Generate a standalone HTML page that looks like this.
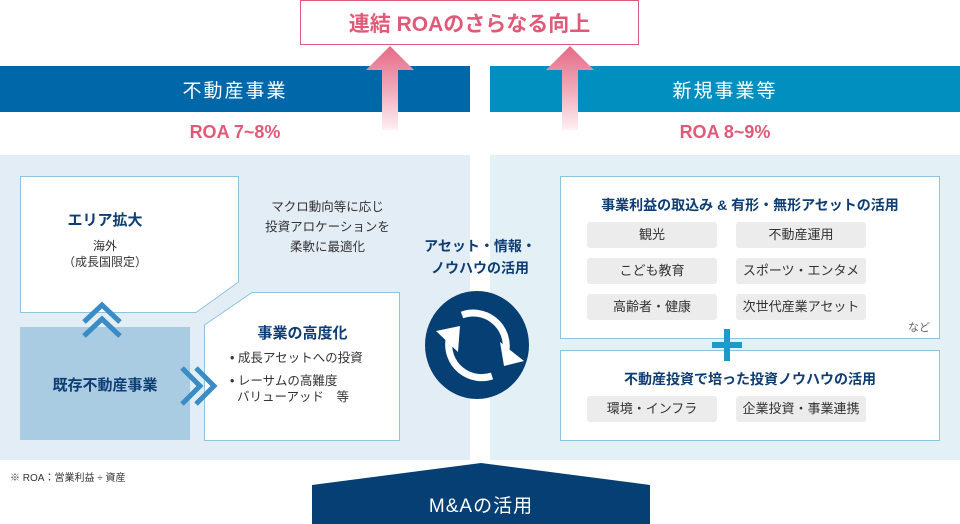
<!DOCTYPE html>
<html><head><meta charset="utf-8"><style>
*{margin:0;padding:0;box-sizing:border-box}
body{width:960px;height:524px;position:relative;overflow:hidden;background:#fff;font-family:"Liberation Sans","Noto Sans CJK JP",sans-serif}
.a{position:absolute}
.t{position:absolute;text-align:center;white-space:nowrap}
.pill{position:absolute;width:130px;height:26px;background:#ececec;border-radius:3px;font-size:13px;color:#333;text-align:center;line-height:26px}
.navy{color:#0d3d73;font-weight:bold}
</style></head><body>
<svg class="a" style="left:0;top:0" width="960" height="524">
<defs>
<linearGradient id="g" x1="0" y1="0" x2="0" y2="1"><stop offset="0" stop-color="#e46a86"/><stop offset="0.5" stop-color="#f0a8b8"/><stop offset="1" stop-color="#fdf0f3"/></linearGradient>
</defs>
<rect x="0" y="155" width="470" height="305" fill="#e3edf6"/>
<rect x="490" y="155" width="470" height="305" fill="#e3f1f7"/>
<rect x="0" y="66" width="470" height="46" fill="#0068a9"/>
<rect x="490" y="66" width="470" height="46" fill="#008fbf"/>
<rect x="300.5" y="0.5" width="338" height="44" fill="#fff" stroke="#e05a78"/>
<path d="M390 46 L414 70 L398 70 L398 130 L382 130 L382 70 L366 70 Z" fill="url(#g)"/>
<path d="M570 46 L594 70 L578 70 L578 130 L562 130 L562 70 L546 70 Z" fill="url(#g)"/>
<path d="M20.5 176.5 H238.5 V282 L196 312.5 H20.5 Z" fill="#fff" stroke="#8cc4e0"/>
<rect x="20" y="327" width="170" height="113" fill="#a9cce3"/>
<path d="M252 292.5 H399.5 V440.5 H204.5 V325 Z" fill="#fff" stroke="#8cc4e0"/>
<path d="M84 322 L102 305 L120 322 M84 336 L102 319 L120 336" fill="none" stroke="#3b8bc4" stroke-width="5"/>
<path d="M182 368 L200 386 L182 404 M196 368 L214 386 L196 404" fill="none" stroke="#3b8bc4" stroke-width="5"/>
<ellipse cx="477" cy="345" rx="52" ry="54" fill="#063f73"/>
<path d="M449 340 A33 33 0 0 0 492 376" fill="none" stroke="#fff" stroke-width="7"/>
<path d="M436 331 L460 326 L458 352 Z" fill="#fff"/>
<path d="M506 350 A33 33 0 0 0 462 315" fill="none" stroke="#fff" stroke-width="7"/>
<path d="M500 342 L524 361 L504 366 Z" fill="#fff"/>
<rect x="560.5" y="176.5" width="379" height="162" fill="#fff" stroke="#8cc4e0"/>
<rect x="560.5" y="350.5" width="379" height="90" fill="#fff" stroke="#8cc4e0"/>
<rect x="712" y="342" width="30" height="6" fill="#1a9cc8"/>
<rect x="724" y="329" width="6" height="32" fill="#1a9cc8"/>
<path d="M312 485 L481 463 L650 485 V524 H312 Z" fill="#063f73"/>
</svg>
<div class="t" style="left:300px;width:339px;top:8px;font-size:21px;font-weight:bold;color:#e05a78">連結 ROAのさらなる向上</div>
<div class="t" style="left:0;width:470px;top:76px;font-size:19px;color:#fff;letter-spacing:2px">不動産事業</div>
<div class="t" style="left:490px;width:470px;top:76px;font-size:19px;color:#fff;letter-spacing:2px">新規事業等</div>
<div class="t" style="left:0;width:470px;top:122px;font-size:18px;color:#e05a78;font-weight:bold">ROA 7~8%</div>
<div class="t" style="left:490px;width:470px;top:122px;font-size:18px;color:#e05a78;font-weight:bold">ROA 8~9%</div>
<div class="t navy" style="left:20px;width:170px;top:209px;font-size:15px">エリア拡大</div>
<div class="t" style="left:20px;width:170px;top:238px;font-size:12px;color:#333;line-height:16px">海外<br>（成長国限定）</div>
<div class="t" style="left:240px;width:175px;top:197px;font-size:12.5px;color:#333;line-height:20px">マクロ動向等に応じ<br>投資アロケーションを<br>柔軟に最適化</div>
<div class="t navy" style="left:20px;width:170px;top:374px;font-size:15px">既存不動産事業</div>
<div class="t navy" style="left:240px;width:125px;top:322px;font-size:15px">事業の高度化</div>
<div class="t" style="left:230px;top:349px;font-size:12.5px;color:#333;text-align:left;line-height:18px">• 成長アセットへの投資</div>
<div class="t" style="left:230px;top:373px;font-size:12.5px;color:#333;text-align:left;line-height:16px">• レーサムの高難度<br>&nbsp;&nbsp;バリューアッド　等</div>
<div class="t navy" style="left:420px;width:120px;top:235px;font-size:14px;line-height:22px">アセット・情報・<br>ノウハウの活用</div>
<div class="t navy" style="left:560px;width:380px;top:195px;font-size:14px">事業利益の取込み &amp; 有形・無形アセットの活用</div>
<div class="pill" style="left:587px;top:222px">観光</div>
<div class="pill" style="left:736px;top:222px">不動産運用</div>
<div class="pill" style="left:587px;top:258px">こども教育</div>
<div class="pill" style="left:736px;top:258px">スポーツ・エンタメ</div>
<div class="pill" style="left:587px;top:294px">高齢者・健康</div>
<div class="pill" style="left:736px;top:294px">次世代産業アセット</div>
<div class="t" style="left:908px;top:319px;font-size:11px;color:#666">など</div>
<div class="t navy" style="left:560px;width:380px;top:369px;font-size:14px">不動産投資で培った投資ノウハウの活用</div>
<div class="pill" style="left:587px;top:396px">環境・インフラ</div>
<div class="pill" style="left:736px;top:396px">企業投資・事業連携</div>
<div class="t" style="left:10px;top:469px;font-size:10px;color:#333">※ ROA：営業利益 ÷ 資産</div>
<div class="t" style="left:312px;width:338px;top:491px;font-size:19px;color:#fff;letter-spacing:1px">M&amp;Aの活用</div>
</body></html>
